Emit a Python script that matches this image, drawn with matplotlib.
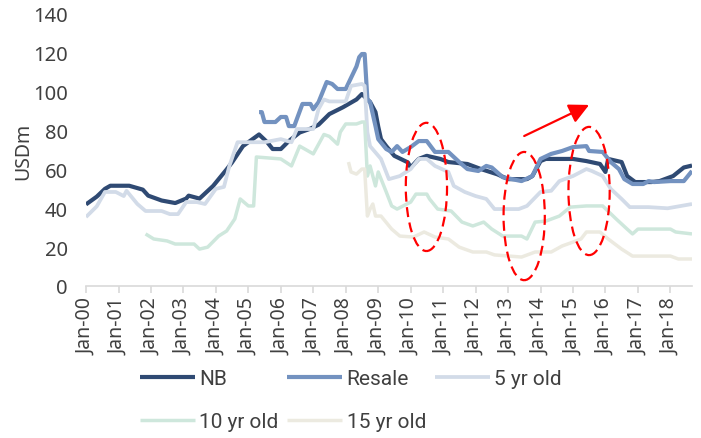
import matplotlib
matplotlib.use("Agg")
import matplotlib.pyplot as plt
import matplotlib.dates as mdates
from matplotlib import font_manager
from matplotlib.patches import Ellipse
import pandas as pd

# ---- series (month, USDm) ----
nb_months = ["2000-01", "2000-05", "2000-08", "2000-10", "2001-05", "2001-10", "2001-12",
             "2002-05", "2002-10", "2003-02", "2003-03", "2003-07", "2003-12", "2004-05",
             "2004-07", "2004-11", "2005-05", "2005-08", "2005-10", "2006-01", "2006-04",
             "2006-08", "2006-12", "2007-03", "2007-07", "2007-12", "2008-05", "2008-07",
             "2008-10", "2008-12", "2009-01", "2009-02", "2009-04", "2009-07", "2009-12",
             "2010-01", "2010-04", "2010-07", "2010-12", "2011-03", "2011-10", "2012-03",
             "2012-09", "2013-01", "2013-08", "2013-10", "2014-01", "2014-03", "2015-01",
             "2015-06", "2015-11", "2016-01", "2016-02", "2016-07", "2016-09", "2016-12",
             "2017-06", "2017-09", "2018-02", "2018-06", "2018-09"]
nb_values = [42, 46, 50, 51.6, 51.6, 49.6, 46.5,
             44, 42.7, 45, 46.5, 45, 51.5, 60,
             63.6, 72, 78, 74, 70.5, 70.5, 74.6,
             79, 81, 83, 88.5, 92, 96, 98.8,
             94.7, 89.5, 82, 75.6, 72, 67, 63.6,
             61, 65.4, 67, 65.4, 63.8, 62.8, 60.2,
             57.5, 55, 55, 56.6, 64.3, 65.4, 65.4,
             64.3, 62.8, 58.7, 65.4, 63.8, 56.6, 53.5,
             53.5, 54, 56.6, 61, 62]

resale_months = ["2005-05", "2005-06", "2005-07", "2005-11", "2006-01", "2006-03", "2006-04",
                 "2006-06", "2006-09", "2006-12", "2007-01", "2007-03", "2007-06", "2007-08",
                 "2007-10", "2008-01", "2008-05", "2008-06", "2008-07", "2008-08", "2008-09",
                 "2008-10", "2008-12", "2009-01", "2009-04", "2009-06", "2009-08", "2009-10",
                 "2010-01", "2010-04", "2010-07", "2010-10", "2011-03", "2011-07", "2011-10",
                 "2012-02", "2012-05", "2012-07", "2012-11", "2013-06", "2013-10", "2014-01",
                 "2014-05", "2014-09", "2015-01", "2015-06", "2015-07", "2015-12", "2016-03",
                 "2016-06", "2016-08", "2016-11", "2017-03", "2017-05", "2017-07", "2018-01",
                 "2018-06", "2018-09"]
resale_values = [89.5, 89.5, 84.4, 84.4, 87, 87, 82.3,
                 82.3, 93.7, 93.7, 91, 94.6, 105, 104,
                 101.4, 101.4, 113, 117.8, 119.4, 119.4, 96,
                 94.7, 82.3, 75.6, 70.5, 69, 72, 69,
                 71.5, 74.6, 74.6, 69, 69, 63.8, 60.2,
                 59.2, 61.8, 61, 56, 54, 56.6, 65.4,
                 68, 69.5, 71.5, 72, 69.5, 69, 63.8,
                 60.2, 55, 52.5, 52.5, 54, 53.5, 54,
                 54, 59.2]

yr5_months = ["2000-01", "2000-05", "2000-08", "2000-12", "2001-03", "2001-04", "2001-08",
              "2001-11", "2002-05", "2002-08", "2002-11", "2003-02", "2003-06", "2003-09",
              "2004-01", "2004-04", "2004-06", "2004-09", "2005-07", "2006-01", "2006-05",
              "2006-07", "2007-01", "2007-03", "2007-05", "2007-07", "2008-01", "2008-03",
              "2008-07", "2008-08", "2008-09", "2008-10", "2009-02", "2009-05", "2009-09",
              "2010-01", "2010-04", "2010-07", "2010-10", "2011-03", "2011-05", "2011-09",
              "2012-01", "2012-05", "2012-08", "2013-05", "2013-08", "2014-01", "2014-05",
              "2014-08", "2015-01", "2015-06", "2015-08", "2015-12", "2016-03", "2016-07",
              "2016-10", "2017-05", "2017-12", "2018-09"]
yr5_values = [35.5, 41, 48.4, 48.4, 46.3, 49, 42.2,
              38.6, 38.6, 37, 37, 43.2, 43.2, 42.2,
              50, 51, 61.8, 74, 74, 75.6, 74,
              80.8, 80.8, 91, 96, 95, 95, 103,
              104, 103, 79.2, 72, 65.4, 55, 56.6,
              60.2, 65.4, 65.4, 61.8, 58.7, 51.5, 48.4,
              46.3, 44.8, 39.6, 39.6, 41.2, 48.4, 49,
              54, 56.6, 60.2, 59.2, 56.6, 50, 44.8,
              40.6, 40.6, 40, 42.2]

yr10_months = ["2001-11", "2002-02", "2002-07", "2002-10", "2003-05", "2003-07", "2003-10",
               "2004-02", "2004-05", "2004-08", "2004-10", "2005-01", "2005-03", "2005-04",
               "2006-01", "2006-05", "2006-08", "2007-01", "2007-05", "2007-07", "2007-10",
               "2007-11", "2008-01", "2008-05", "2008-07", "2008-08", "2008-09", "2008-10",
               "2008-12", "2009-01", "2009-04", "2009-06", "2009-08", "2010-01", "2010-03",
               "2010-07", "2010-08", "2010-11", "2011-04", "2011-08", "2011-12", "2012-04",
               "2012-07", "2012-11", "2013-06", "2013-08", "2013-11", "2014-03", "2014-08",
               "2014-12", "2015-06", "2015-12", "2016-05", "2016-09", "2016-11", "2017-01",
               "2018-01", "2018-03", "2018-09"]
yr10_values = [26.8, 24.2, 23.2, 21.6, 21.6, 19, 20,
               25.7, 28.3, 34.5, 44.8, 41.2, 41.2, 66.4,
               65.4, 61.8, 72, 68, 78, 77, 73,
               79.2, 83.4, 83.4, 84.4, 84.4, 56.6, 61.8,
               51.5, 58.7, 48.4, 41.2, 39.6, 43.2, 47.3,
               47.3, 44.8, 39.6, 38.6, 32.9, 30.9, 32.9,
               29.3, 25.7, 25.7, 24.2, 32.9, 33.4, 36,
               40.6, 41.2, 41.2, 34.5, 29.3, 26.8, 29.3,
               29.3, 27.8, 26.8]

yr15_months = ["2008-02", "2008-03", "2008-05", "2008-07", "2008-08", "2008-09", "2008-10",
               "2008-11", "2008-12", "2009-02", "2009-06", "2009-09", "2010-02", "2010-06",
               "2010-10", "2011-03", "2011-07", "2011-12", "2012-05", "2012-08", "2013-06",
               "2013-11", "2014-05", "2014-09", "2015-01", "2015-04", "2015-06", "2015-11",
               "2016-02", "2016-07", "2016-11", "2018-01", "2018-04", "2018-09"]
yr15_values = [63.8, 58.7, 57.6, 60.2, 60.2, 36, 39.6,
               42.2, 36, 36, 29.3, 25.7, 25.2, 27.8,
               25.2, 24.2, 20, 17.5, 17.5, 16, 14.9,
               17.5, 17.5, 20.6, 22.6, 24.2, 27.8, 27.8,
               24.2, 19, 15.4, 15.4, 13.9, 13.9]

series_names = ["NB", "Resale", "5 yr old", "10 yr old", "15 yr old"]
series_colors = ["#2F4A73", "#7392C0", "#D2DBE8", "#CEE7DC", "#ECEAE0"]
series_widths = [3.0, 3.0, 2.7, 2.5, 2.5]

y_ticks = [0, 20, 40, 60, 80, 100, 120, 140]

# ---- fonts ----
available = {f.name for f in font_manager.fontManager.ttflist}
base_font = "Noto Sans" if "Noto Sans" in available else "DejaVu Sans"
legend_font = "Roboto" if "Roboto" in available else base_font

plt.rcParams["font.family"] = [base_font, "DejaVu Sans"]
text_color = "#404040"

fig = plt.figure(figsize=(7.01, 4.39), dpi=100)
ax = fig.add_axes([86 / 701, 1 - 287 / 439, (692 - 86) / 701, (287 - 15) / 439])

series = [
    (nb_months, nb_values),
    (resale_months, resale_values),
    (yr5_months, yr5_values),
    (yr10_months, yr10_values),
    (yr15_months, yr15_values),
]
handles = []
for i, ((months, values), name, color, lw) in enumerate(
        zip(series, series_names, series_colors, series_widths)):
    dates = pd.to_datetime(months, format="%Y-%m")
    (h,) = ax.plot(dates, values, color=color, lw=lw, label=name,
                   solid_joinstyle="round", solid_capstyle="butt", zorder=2 + i)
    handles.append(h)

ax.set_ylim(0, 140)
ax.set_yticks(y_ticks)
ax.set_xlim(pd.Timestamp("2000-01-01"), pd.Timestamp("2018-09-01"))
ax.xaxis.set_major_locator(mdates.YearLocator(1, month=1, day=1))
ax.xaxis.set_major_formatter(mdates.DateFormatter("%b-%y"))

for s in ["top", "right", "left"]:
    ax.spines[s].set_visible(False)
ax.spines["bottom"].set_color("#D9D9D9")
ax.spines["bottom"].set_linewidth(1.2)

ax.tick_params(axis="x", direction="out", length=5, width=1.2, color="#D9D9D9",
               labelsize=14, labelcolor=text_color, pad=3, labelrotation=90)
ax.tick_params(axis="y", length=0, labelsize=14.5, labelcolor=text_color, pad=13)

ax.set_ylabel("USDm", fontsize=14, color=text_color)
ax.yaxis.set_label_coords((33 - 86) / 606, 0.5)

# ---- highlight annotations ----
def ts(s):
    return mdates.date2num(pd.Timestamp(s))

ellipse_specs = [("2010-06-27", 51.0), ("2013-07-01", 36.0), ("2015-07-01", 48.9)]
for center_date, center_val in ellipse_specs:
    ax.add_patch(Ellipse((ts(center_date), center_val), width=464, height=66,
                         fill=False, edgecolor="#FF0000", lw=1.6,
                         linestyle=(0, (4.5, 2.5)), zorder=10))

ax.annotate("", xy=(ts("2015-07-01"), 93.2), xytext=(ts("2013-07-01"), 77.2),
            arrowprops=dict(arrowstyle="-|>,head_length=1.2,head_width=0.6",
                            color="#FF0000", lw=1.6, shrinkA=0, shrinkB=0),
            zorder=10)

# ---- legend ----
order = [0, 3, 1, 4, 2]
leg = fig.legend([handles[i] for i in order], [series_names[i] for i in order],
                 ncol=3, loc="upper left",
                 bbox_to_anchor=(140 / 701, 1 - 370 / 439),
                 frameon=False, prop={"family": legend_font, "size": 15},
                 handlelength=2.64, handletextpad=0.2, columnspacing=0.43,
                 labelspacing=1.15, borderpad=0, borderaxespad=0)
for t in leg.get_texts():
    t.set_color(text_color)

fig.savefig("out.png", dpi=100)
